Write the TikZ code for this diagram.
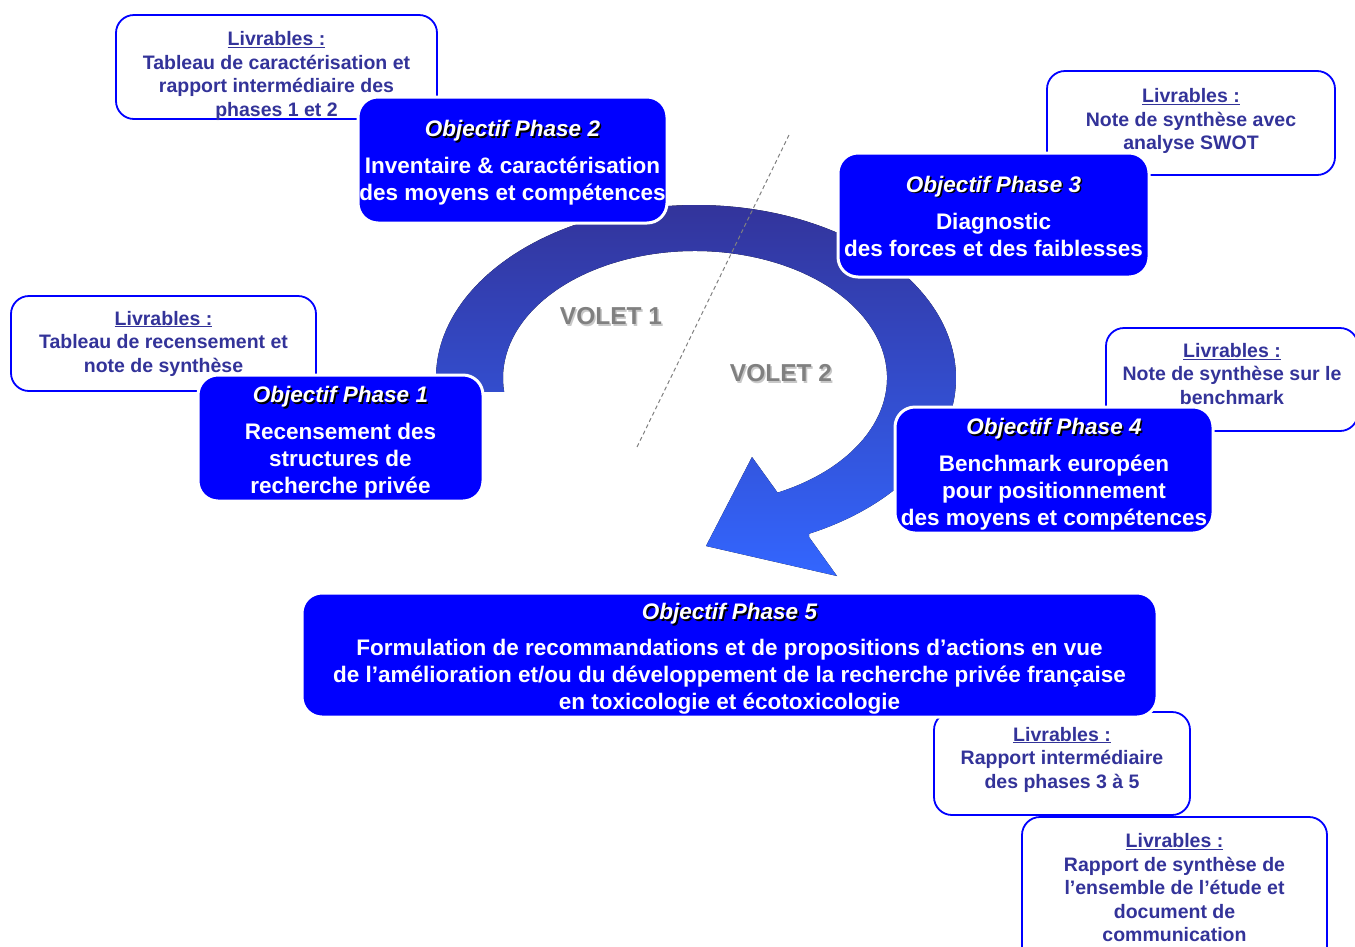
\documentclass[tikz,border=0pt]{standalone}
\usepackage{fontspec}
\setmainfont{Liberation Sans}

\definecolor{bleuphase}{HTML}{0000FF}
\definecolor{bleulivr}{HTML}{333399}
\definecolor{anneauhaut}{HTML}{333399}
\definecolor{anneaubas}{HTML}{3366FF}
\definecolor{grisvolet}{HTML}{808080}
\definecolor{ombrevolet}{HTML}{C8C8C8}

\newcommand{\titreombre}[1]{\makebox[0pt][l]{\kern1.6pt\raisebox{-1.6pt}{\color{black}#1}}#1}
\newcommand{\voletombre}[1]{\makebox[0pt][l]{\kern1.5pt\raisebox{-1.5pt}{\color{ombrevolet}#1}}#1}
\newcommand{\livr}{\underline{Livrables :}}

\tikzset{
    livrable/.style={draw=bleuphase, line width=1.8pt, fill=white, rounded corners=18pt},
    livtexte/.style={text=bleulivr, align=center, inner sep=1pt,
        font=\fontsize{19.5}{23.5}\selectfont\bfseries},
    phase/.style={draw=white, line width=3pt, fill=bleuphase, rounded corners=20pt},
    phasetexte/.style={text=white, align=center, inner sep=1pt,
        font=\fontsize{22.5}{27}\selectfont\bfseries},
    volet/.style={text=grisvolet, font=\fontsize{24.5}{29}\selectfont\bfseries}
}

\begin{document}
\begin{tikzpicture}[x=1pt, y=-1pt]
        \useasboundingbox (0,0) rectangle (1355,946);

        % ~~~~ Livrables ~~~~ %
        \node[livrable, minimum width=321, minimum height=104] (livr2) at (276.5,67) {};
        \node[livtexte] (livr2t) at (276.5,76)
            {\livr\\Tableau de caractérisation et\\rapport intermédiaire des\\phases 1 et 2};
        \node[livrable, minimum width=288, minimum height=104] (livr3) at (1191,123) {};
        \node[livtexte] (livr3t) at (1191,121)
            {\livr\\Note de synthèse avec\\analyse SWOT};
        \node[livrable, minimum width=305, minimum height=95] (livr1) at (163.5,343.5) {};
        \node[livtexte] (livr1t) at (163.5,343.5)
            {\livr\\Tableau de recensement et\\note de synthèse};
        \node[livrable, minimum width=252, minimum height=103] (livr4) at (1232,379.5) {};
        \node[livtexte] (livr4t) at (1232,374)
            {\livr\\Note de synthèse sur le\\benchmark};

        % ~~~~ Anneau/Fleche ~~~~ %
        \coordinate (barbeb) at (837,576);
        \coordinate (pointe) at (706,546);
        \coordinate (barbeh) at (752,457);
        \fill[top color=anneauhaut, bottom color=anneaubas]
            ([shift={(696,378)}]175.4:260 and 173)
            arc[start angle=175.4, end angle=424.2, x radius=260, y radius=173]
            -- (809,537) -- (barbeb) -- (pointe) -- (barbeh) -- (780,496)
            -- ([shift={(695,378)}]64.5:192 and 127)
            arc[start angle=424.5, end angle=173.7, x radius=192, y radius=127]
            -- cycle;

        \draw[grisvolet, line width=1pt, dash pattern=on 4pt off 3pt] (789,135) -- (637,447);

        \node[volet] (volet1) at (611,317) {\voletombre{VOLET 1}};
        \node[volet] (volet2) at (781,374) {\voletombre{VOLET 2}};

        % ~~~~ Phases ~~~~ %
        \node[phase, minimum width=285, minimum height=126] (phase1) at (340.5,438) {};
        \node[phasetexte] (phase1t) at (340.5,442.5)
            {{\itshape\titreombre{Objectif Phase 1}}\\[10pt]Recensement des\\structures de\\recherche privée};
        \node[phase, minimum width=309, minimum height=126] (phase2) at (512.5,160) {};
        \node[phasetexte] (phase2t) at (512.5,163)
            {{\itshape\titreombre{Objectif Phase 2}}\\[10pt]Inventaire \& caractérisation\\des moyens et compétences};
        \node[phase, minimum width=311, minimum height=124] (phase3) at (993.5,215) {};
        \node[phasetexte] (phase3t) at (993.5,216)
            {{\itshape\titreombre{Objectif Phase 3}}\\[10pt]Diagnostic\\des forces et des faiblesses};
        \node[phase, minimum width=318, minimum height=126] (phase4) at (1054,470) {};
        \node[phasetexte] (phase4t) at (1054,474.5)
            {{\itshape\titreombre{Objectif Phase 4}}\\[10pt]Benchmark européen\\pour positionnement\\des moyens et compétences};

        \node[livrable, minimum width=256, minimum height=103] (livr5a) at (1062,763.5) {};
        \node[livtexte] (livr5at) at (1062,759.5)
            {\livr\\Rapport intermédiaire\\des phases 3 à 5};
        \node[phase, minimum width=855, minimum height=124] (phase5) at (729.5,655) {};
        \node[phasetexte] (phase5t) at (729.5,659)
            {{\itshape\titreombre{Objectif Phase 5}}\\[9pt]Formulation de recommandations et de propositions d’actions en vue\\de l’amélioration et/ou du développement de la recherche privée française\\en toxicologie et écotoxicologie};
        \node[livrable, minimum width=305, minimum height=148] (livr5b) at (1174.5,891) {};
        \node[livtexte] (livr5bt) at (1174.5,888)
            {\livr\\Rapport de synthèse de\\l’ensemble de l’étude et\\document de\\communication};
    \end{tikzpicture}
\end{document}
